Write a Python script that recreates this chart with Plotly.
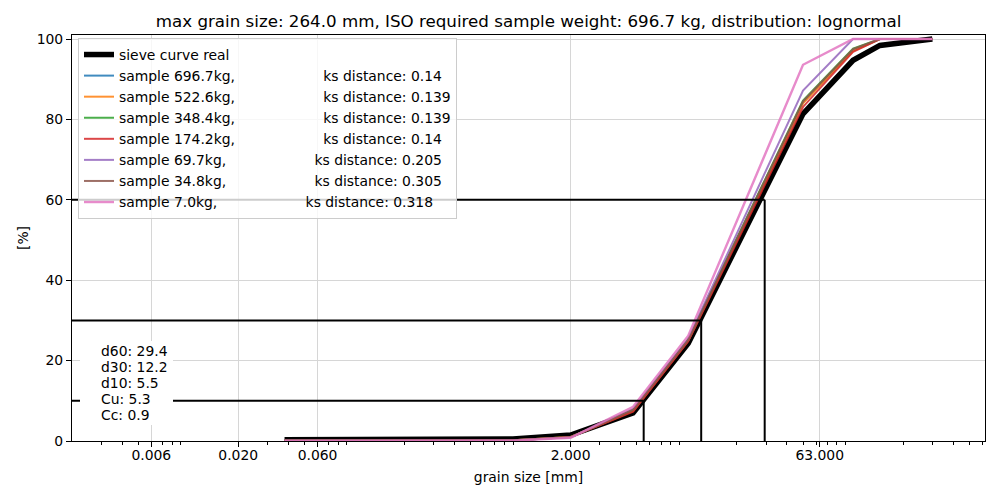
import numpy as np
import plotly.graph_objects as go

# ---------------- data ----------------
sieve_mm = [0.038, 0.9, 2.0, 4.75, 10.2, 50.0, 100.0, 145.0, 300.0]
passing_real = [0.3, 0.5, 1.5, 7.0, 24.3, 81.4, 94.7, 98.4, 100.0]

sample_weights = ["696.7", "522.6", "348.4", "174.2", "69.7", "34.8", "7.0"]
ks_distances = ["0.14", "0.139", "0.139", "0.14", "0.205", "0.305", "0.318"]

passing_696_7 = [0.1, 0.2, 1.0, 7.5, 25.0, 84.2, 97.2, 100.0, 100.0]
passing_522_6 = [0.1, 0.2, 1.0, 7.5, 25.0, 84.0, 97.0, 100.0, 100.0]
passing_348_4 = [0.1, 0.2, 1.0, 7.6, 25.2, 84.7, 97.6, 100.0, 100.0]
passing_174_2 = [0.1, 0.2, 1.0, 7.3, 24.8, 83.1, 96.8, 100.0, 100.0]
passing_69_7 = [0.1, 0.2, 0.9, 8.0, 25.5, 87.2, 100.0, 100.0, 100.0]
passing_34_8 = [0.1, 0.2, 0.9, 7.8, 25.2, 84.5, 97.5, 100.0, 100.0]
passing_7_0 = [0.0, 0.1, 0.8, 8.5, 26.2, 93.6, 100.0, 100.0, 100.0]

d_names = ["d60", "d30", "d10"]
d_sizes = [29.4, 12.2, 5.5]
d_percents = [60, 30, 10]
coef_names = ["Cu", "Cc"]
coef_values = [5.3, 0.9]

xtick_vals = [0.006, 0.02, 0.06, 2.0, 63.0]
xtick_text = ["0.006", "0.020", "0.060", "2.000", "63.000"]
ytick_vals = [0, 20, 40, 60, 80, 100]

title_text = ("max grain size: 264.0 mm, ISO required sample weight: 696.7 kg, "
              "distribution: lognormal")

# ---------------- style ----------------
FONT = "DejaVu Sans"
FS = 13.9
colors = ["#1f77b4", "#ff7f0e", "#2ca02c", "#d62728", "#9467bd", "#8c564b", "#e377c2"]
widths = [2, 2, 2, 2, 2, 2, 2.4]
sample_series = [passing_696_7, passing_522_6, passing_348_4, passing_174_2,
                 passing_69_7, passing_34_8, passing_7_0]

x_min, x_max = 0.002, 622.0
y_min, y_max = 0.0, 101.0

# page body has an 8px margin: figure sits at (8, 8) in the window
OFF = 8
W, H = 1000 - OFF, 500 - OFF
# plot area in screen coords: x 72..985, y 35..441
SL, SR, ST, SB = 72, 985, 35, 441
ML, MR, MT, MB = SL - OFF, W - (SR - OFF), ST - OFF, H - (SB - OFF)
PW, PH = SR - SL, SB - ST


def px_to_paper_x(px):
    return (px - SL) / PW


def px_to_paper_y(py):
    return (SB - py) / PH


fig = go.Figure()

fig.add_trace(go.Scatter(
    x=sieve_mm, y=passing_real, mode="lines", name="sieve curve real",
    line=dict(color="black", width=5.5),
))

gap = "\u00a0" * 20
for w, ks, vals, c, lw in zip(sample_weights, ks_distances, sample_series, colors, widths):
    fig.add_trace(go.Scatter(
        x=sieve_mm, y=vals, mode="lines",
        name=f"sample {w}kg,{gap}ks distance: {ks}",
        line=dict(color=c, width=lw), opacity=0.85,
    ))

# d-lines
for d, p in zip(d_sizes, d_percents):
    fig.add_trace(go.Scatter(
        x=[x_min * 0.5, d], y=[p, p], mode="lines", showlegend=False,
        line=dict(color="black", width=2), hoverinfo="skip",
    ))
    fig.add_trace(go.Scatter(
        x=[d, d], y=[0, p], mode="lines", showlegend=False,
        line=dict(color="black", width=2), hoverinfo="skip",
    ))

# white box behind the text
fig.add_shape(type="rect", xref="paper", yref="paper",
              x0=px_to_paper_x(80), x1=px_to_paper_x(173),
              y0=px_to_paper_y(425), y1=px_to_paper_y(341),
              fillcolor="white", line=dict(width=0), layer="above")

text_lines = [f"{n}: {v}" for n, v in zip(d_names, d_sizes)] + \
             [f"{n}: {v}" for n, v in zip(coef_names, coef_values)]
for i, t in enumerate(text_lines):
    fig.add_annotation(
        text=t, xref="paper", yref="paper",
        x=px_to_paper_x(99), y=px_to_paper_y(351 + 16 * i),
        xanchor="left", yanchor="middle", showarrow=False,
        font=dict(family=FONT, size=FS, color="black"),
    )

# minor ticks (matplotlib-like log minor ticks 2..9 x 10^n)
minor_vals = []
for e in range(-3, 3):
    for k in range(2, 10):
        v = k * 10.0 ** e
        if x_min < v < x_max and not any(abs(v - t) / t < 1e-6 for t in xtick_vals):
            minor_vals.append(v)

fig.update_xaxes(
    type="log", range=[np.log10(x_min), np.log10(x_max)],
    tickmode="array", tickvals=xtick_vals, ticktext=xtick_text,
    ticks="outside", ticklen=5, tickwidth=1.1, tickcolor="black",
    ticklabelstandoff=-4,
    showline=True, linecolor="black", linewidth=1.1, mirror=True,
    showgrid=True, gridcolor="#d6d6d6", gridwidth=1, zeroline=False,
    tickfont=dict(family=FONT, size=FS, color="black"),
    title=dict(text="grain size [mm]", font=dict(family=FONT, size=FS, color="black"),
               standoff=10),
    minor=dict(tickmode="array", tickvals=minor_vals, ticks="outside", ticklen=3,
               tickwidth=0.8, tickcolor="black", showgrid=False),
)
fig.update_yaxes(
    range=[y_min, y_max], tickmode="array", tickvals=ytick_vals,
    ticks="outside", ticklen=5, tickwidth=1.1, tickcolor="black",
    showline=True, linecolor="black", linewidth=1.1, mirror=True,
    showgrid=True, gridcolor="#d6d6d6", gridwidth=1, zeroline=False,
    tickfont=dict(family=FONT, size=FS, color="black"),
    title=dict(text="[%]", font=dict(family=FONT, size=FS, color="black"), standoff=4),
)

fig.update_layout(
    width=W, height=H,
    margin=dict(l=ML, r=MR, t=MT, b=MB, autoexpand=False),
    paper_bgcolor="white", plot_bgcolor="white",
    font=dict(family=FONT, size=FS, color="black"),
    title=dict(text=title_text, x=0.5, xref="paper", xanchor="center",
               y=1 - (21 - OFF) / H, yref="container", yanchor="middle",
               font=dict(family=FONT, size=16.7, color="black")),
    legend=dict(
        x=px_to_paper_x(78), y=px_to_paper_y(38), xanchor="left", yanchor="top",
        bgcolor="rgba(255,255,255,0.8)", bordercolor="#cccccc", borderwidth=1,
        font=dict(family=FONT, size=FS, color="black"),
        traceorder="normal",
    ),
    showlegend=True,
)

fig.write_html("out.html")
